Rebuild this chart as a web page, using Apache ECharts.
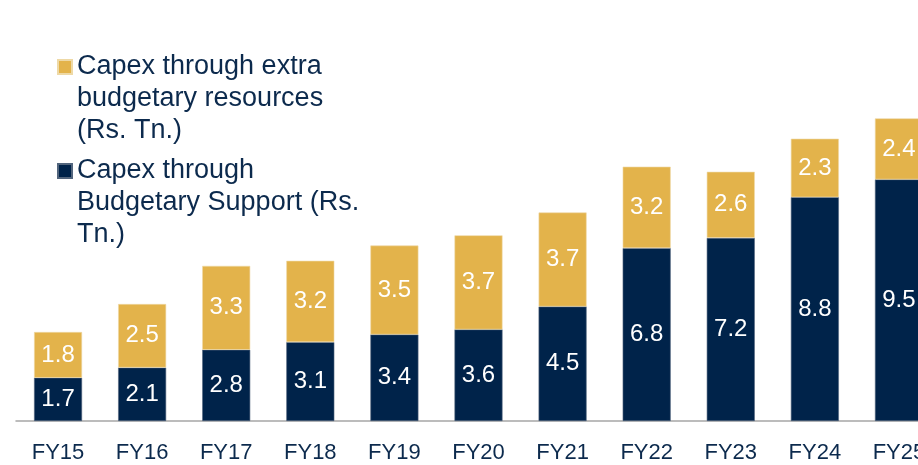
<!DOCTYPE html>
<html>
<head>
<meta charset="utf-8">
<script src="https://cdn.jsdelivr.net/npm/echarts@6/dist/echarts.min.js"></script>
<style>
  html, body { margin: 0; padding: 0; background: #fff; }
  #chart { width: 918px; height: 465px; }
</style>
</head>
<body>
<div id="chart"></div>
<script>
// values (Rs. Tn.)
const years = ['FY15', 'FY16', 'FY17', 'FY18', 'FY19', 'FY20', 'FY21', 'FY22', 'FY23', 'FY24', 'FY25'];
const budgetary = [1.7, 2.1, 2.8, 3.1, 3.4, 3.6, 4.5, 6.8, 7.2, 8.8, 9.5];
const extraBudgetary = [1.8, 2.5, 3.3, 3.2, 3.5, 3.7, 3.7, 3.2, 2.6, 2.3, 2.4];

const nameExtra = 'Capex through extra\nbudgetary resources\n(Rs. Tn.)';
const nameBudget = 'Capex through\nBudgetary Support (Rs.\nTn.)';

const NAVY = '#00234a';
const GOLD = '#e3b34b';
const TEXT = '#0c2a4d';

const chart = echarts.init(document.getElementById('chart'));

// legend text is 3 lines; two blank lines in front put the first line level with the square
function legendBlock(name, top) {
  return {
    data: [name],
    orient: 'vertical',
    left: 57,
    top: top,
    padding: 0,
    icon: 'rect',
    itemWidth: 14,
    itemHeight: 14,
    selectedMode: false,
    formatter: n => '\n\n' + n,
    textStyle: {
      color: TEXT,
      fontSize: 27,
      fontFamily: 'Liberation Sans, Arial, sans-serif',
      lineHeight: 32
    }
  };
}

const labelStyle = {
  show: true,
  position: 'inside',
  color: '#fff',
  fontSize: 24,
  fontFamily: 'Liberation Sans Narrow, Arial Narrow, Liberation Sans, sans-serif'
};

chart.setOption({
  animation: false,
  backgroundColor: '#fff',
  title: {
    text: 'Capex (Rs. Tn.)',
    left: 397,
    top: -27,
    padding: 0,
    textStyle: { color: TEXT, fontSize: 26, fontWeight: 'bold', fontFamily: 'Liberation Sans, Arial, sans-serif' }
  },
  legend: [legendBlock(nameExtra, -13), legendBlock(nameBudget, 91)],
  grid: { left: 16, right: -23, top: 65, bottom: 44, outerBoundsMode: 'none' },
  xAxis: {
    type: 'category',
    data: years,
    axisTick: { show: false },
    axisLine: { lineStyle: { color: '#a6a6a6', width: 1.5 } },
    axisLabel: {
      color: TEXT,
      fontSize: 22,
      margin: 21,
      fontFamily: 'Liberation Sans, Arial, sans-serif'
    }
  },
  yAxis: {
    type: 'value',
    min: 0,
    max: 14,
    show: false,
    splitLine: { show: false }
  },
  series: [
    {
      name: nameBudget,
      type: 'bar',
      stack: 'capex',
      barWidth: 48,
      data: budgetary,
      itemStyle: { color: NAVY, borderColor: '#52657d', borderWidth: 0.6 },
      label: labelStyle
    },
    {
      name: nameExtra,
      type: 'bar',
      stack: 'capex',
      barWidth: 48,
      data: extraBudgetary,
      itemStyle: { color: GOLD, borderColor: '#eed9a6', borderWidth: 0.6 },
      label: labelStyle
    }
  ]
});
</script>
</body>
</html>
